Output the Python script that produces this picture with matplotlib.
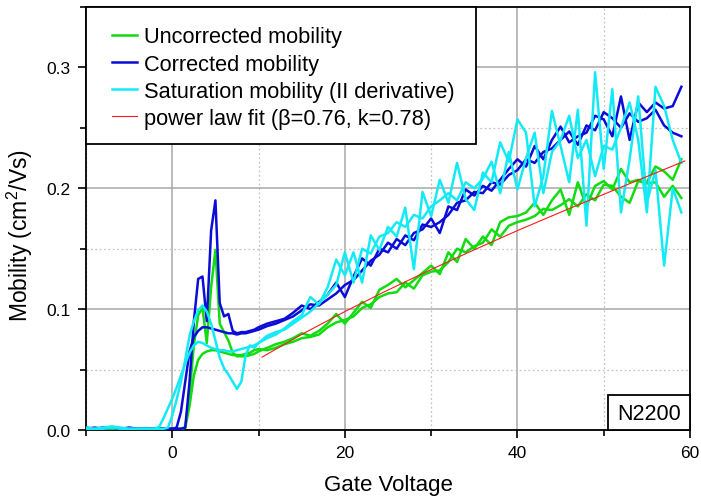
import matplotlib
matplotlib.use("Agg")
import matplotlib.pyplot as plt
from matplotlib.ticker import MultipleLocator, FormatStrFormatter
from matplotlib.patches import Rectangle

plt.rcParams['font.family'] = ['Liberation Sans', 'DejaVu Sans']
plt.rcParams['mathtext.fontset'] = 'custom'
plt.rcParams['mathtext.rm'] = 'Liberation Sans'
plt.rcParams['mathtext.it'] = 'Liberation Sans'

# Gate voltage sweep (V)
gate_voltage = [-10, -9, -8, -7, -6, -5, -4, -3,
                -2, -1.5, -1, -0.5, 0, 0.5, 1, 1.5, 2, 2.5, 3, 3.5, 4, 4.5,
                5, 5.5, 6, 6.5, 7, 7.5, 8, 8.5, 9, 9.5, 10,
                11, 12, 13, 14, 15, 16, 17, 18, 19, 20,
                21, 22, 23, 24, 25, 26, 27, 28, 29, 30,
                31, 32, 33, 34, 35, 36, 37, 38, 39, 40,
                41, 42, 43, 44, 45, 46, 47, 48, 49, 50,
                51, 52, 53, 54, 55, 56, 57, 58, 59]

# Uncorrected mobility, two sweeps (cm^2/Vs)
uncorrected_a = [.001, .001, .001, .001, .001, .001, .001, .001,
                 .001, .001, .001, .001, .001, .001, .001, .002, .030, .070, .095, .101, .072, .118,
                 .149, .088, .081, .074, .064, .061, .061, .061, .062, .063, .065,
                 .068, .071, .073, .076, .080, .078, .082, .088, .096, .088,
                 .097, .106, .101, .116, .120, .125, .118, .124, .130, .136,
                 .129, .147, .139, .158, .150, .160, .153, .172, .176, .177,
                 .180, .188, .178, .190, .199, .178, .205, .185, .202, .206,
                 .199, .216, .205, .207, .205, .218, .214, .207, .224]
uncorrected_b = [.001, .001, .002, .001, .001, .001, .001, .001,
                 .001, .001, .001, .001, .001, .001, .001, .002, .020, .045, .058, .063, .065, .066,
                 .066, .065, .064, .063, .062, .062, .062, .063, .064, .066, .067,
                 .066, .068, .071, .073, .076, .077, .079, .085, .089, .091,
                 .094, .101, .104, .110, .113, .114, .122, .117, .128, .131,
                 .132, .139, .150, .147, .152, .155, .166, .160, .169, .172,
                 .174, .177, .183, .182, .186, .191, .185, .195, .190, .203,
                 .202, .193, .188, .206, .204, .205, .193, .202, .192]

# Corrected mobility, two sweeps
corrected_a = [.002, .001, .002, .002, .001, .001, .001, .001,
               .001, .001, .001, .001, .001, .001, .001, .002, .040, .090, .125, .127, .090, .165,
               .190, .105, .094, .096, .082, .080, .081, .081, .082, .083, .085,
               .088, .090, .092, .097, .103, .100, .106, .112, .122, .110,
               .127, .142, .136, .150, .147, .158, .153, .163, .166, .175,
               .163, .185, .182, .199, .194, .202, .198, .207, .216, .224,
               .218, .235, .224, .240, .251, .238, .243, .246, .260, .257,
               .243, .276, .240, .271, .263, .271, .266, .268, .284]
corrected_b = [.001, .002, .001, .002, .001, .002, .001, .001,
               .001, .001, .001, .001, .001, .002, .015, .040, .065, .077, .082, .085, .085, .084,
               .083, .082, .081, .080, .080, .079, .080, .080, .081, .082, .083,
               .086, .088, .091, .094, .099, .104, .103, .108, .113, .120,
               .124, .132, .140, .145, .155, .150, .161, .157, .170, .168,
               .172, .178, .188, .190, .197, .196, .205, .203, .211, .215,
               .224, .221, .230, .233, .240, .247, .236, .252, .248, .263,
               .258, .250, .262, .255, .258, .265, .252, .246, .243]

# Saturation mobility from the second derivative, two sweeps
saturation_a = [.001, .001, .002, .003, .002, .001, .001, .001,
                .001, .001, .001, .002, .012, .025, .040, .058, .078, .090, .099, .103, .098, .088,
                .074, .060, .051, .046, .040, .034, .040, .062, .070, .068, .072,
                .076, .079, .084, .090, .095, .110, .104, .118, .141, .128,
                .147, .122, .161, .149, .168, .160, .184, .133, .197, .177,
                .207, .188, .221, .191, .182, .213, .205, .238, .222, .257,
                .246, .185, .210, .264, .235, .205, .265, .169, .296, .216,
                .282, .180, .224, .276, .188, .215, .136, .200, .180]
saturation_b = [.002, .001, .001, .002, .001, .001, .001, .001,
                .001, .003, .010, .018, .026, .035, .045, .055, .064, .070, .073, .072, .070, .068,
                .067, .066, .066, .065, .065, .066, .067, .068, .069, .070, .072,
                .078, .081, .083, .088, .093, .098, .105, .112, .120, .147,
                .122, .150, .146, .160, .163, .172, .168, .178, .175, .185,
                .190, .196, .190, .205, .200, .208, .222, .196, .230, .199,
                .225, .246, .196, .230, .240, .260, .225, .240, .210, .235,
                .232, .250, .271, .240, .180, .284, .268, .240, .221]

# Power-law fit curve
fit_voltage = [10.4, 15, 20, 25, 30, 35, 40, 45, 50, 55, 59.4]
fit_mobility = [0.0603, 0.0791, 0.098, 0.1158, 0.1328, 0.1491, 0.165,
                0.1802, 0.195, 0.2097, 0.2226]

GREEN = '#10dc10'
BLUE = '#0c0cd8'
CYAN = '#14eaf6'
RED = '#ff1a1a'

fig = plt.figure(figsize=(7.01, 5.02), dpi=100)
ax = fig.add_axes([86 / 701, 71 / 502, 604 / 701, 423 / 502])

lw = 1.8
ax.plot(gate_voltage, uncorrected_a, color=GREEN, lw=lw, label='Uncorrected mobility', zorder=3)
ax.plot(gate_voltage, uncorrected_b, color=GREEN, lw=lw, zorder=3)
ax.plot(gate_voltage, corrected_a, color=BLUE, lw=lw, label='Corrected mobility', zorder=3)
ax.plot(gate_voltage, corrected_b, color=BLUE, lw=lw, zorder=3)
ax.plot(gate_voltage, saturation_a, color=CYAN, lw=lw,
        label='Saturation mobility (II derivative)', zorder=3)
ax.plot(gate_voltage, saturation_b, color=CYAN, lw=lw, zorder=3)
ax.plot(fit_voltage, fit_mobility, color=RED, lw=0.8,
        label='power law fit (\u03b2=0.76, k=0.78)', zorder=4)

ax.set_xlim(-10, 60)
ax.set_ylim(0, 0.35)
ax.xaxis.set_major_locator(MultipleLocator(20))
ax.xaxis.set_minor_locator(MultipleLocator(10))
ax.yaxis.set_major_locator(MultipleLocator(0.1))
ax.yaxis.set_minor_locator(MultipleLocator(0.05))
ax.yaxis.set_major_formatter(FormatStrFormatter('%.1f'))

ax.grid(which='major', color='#a8a8a8', lw=1.1, ls='-', zorder=0)
ax.grid(which='minor', color='#c4c4c4', lw=0.9, ls=(0, (1.5, 2)), zorder=0)
ax.set_axisbelow(True)

ax.tick_params(which='major', direction='out', length=6, width=1.2,
               labelsize=12.5, pad=5, top=False, right=False)
ax.tick_params(which='minor', direction='out', length=4, width=1.2,
               top=False, right=False)
for s in ax.spines.values():
    s.set_linewidth(1.3)

ax.set_xlabel('Gate Voltage', fontsize=16, labelpad=10)
ax.set_ylabel('Mobility (cm$^2$/Vs)', fontsize=16.5)
ax.yaxis.set_label_coords(-0.084, 0.463)

# Legend box anchored to the upper-left corner of the axes
ax.add_patch(Rectangle((0.0, 0.676), 0.6457, 0.324, transform=ax.transAxes,
                       facecolor='white', edgecolor='black', lw=1.3,
                       zorder=9, clip_on=False))
leg = ax.legend(loc='upper left', bbox_to_anchor=(0.043, 0.954),
                borderaxespad=0, frameon=False, fontsize=15.7,
                handlelength=1.15, handletextpad=0.3, labelspacing=0.28,
                borderpad=0)
leg.set_zorder(10)

# Sample tag in the lower-right corner
ax.add_patch(Rectangle((0.864, 0.0), 0.136, 0.083, transform=ax.transAxes,
                       facecolor='white', edgecolor='black', lw=1.3,
                       zorder=9, clip_on=False))
ax.text(0.933, 0.026, 'N2200', transform=ax.transAxes, ha='center',
        va='baseline', fontsize=15.5, zorder=10)

fig.savefig('out.png', dpi=100)
